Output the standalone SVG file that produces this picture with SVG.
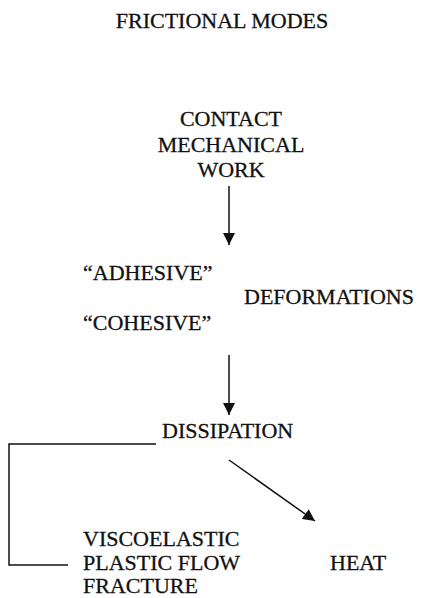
<svg xmlns="http://www.w3.org/2000/svg" width="422" height="598" viewBox="0 0 422 598">
<style>
text{font-family:"Liberation Serif","DejaVu Serif","Times New Roman",serif;font-size:22px;fill:#111;stroke:#111;stroke-width:0.3}
.c{text-anchor:middle}
.ln{stroke:#111;stroke-width:1.5;fill:none}
</style>
<defs>
<marker id="ah" viewBox="0 0 12 12" refX="12" refY="6" markerWidth="12" markerHeight="12" markerUnits="userSpaceOnUse" orient="auto">
<path d="M0,0 L12,6 L0,12 Z" fill="#111"/>
</marker>
</defs>
<rect width="422" height="598" fill="#fff"/>
<g id="title"><text class="c" x="222" y="28">FRICTIONAL MODES</text></g>
<g id="work"><text class="c" x="231" y="126">CONTACT</text><text class="c" x="231" y="152">MECHANICAL</text><text class="c" x="231" y="177">WORK</text></g>
<g id="deformations"><text x="83" y="280">“ADHESIVE”</text><text x="244" y="304">DEFORMATIONS</text><text x="83" y="330">“COHESIVE”</text></g>
<g id="dissipation"><text x="162" y="438">DISSIPATION</text></g>
<g id="modes"><text x="83" y="546">VISCOELASTIC</text><text x="83" y="570">PLASTIC FLOW</text><text x="83" y="593">FRACTURE</text></g>
<g id="heat"><text x="330" y="570">HEAT</text></g>
<g id="connectors">
<line class="ln" x1="229" y1="186" x2="229" y2="245" marker-end="url(#ah)"/>
<line class="ln" x1="229" y1="355" x2="229" y2="415" marker-end="url(#ah)"/>
<line class="ln" x1="229" y1="460" x2="315" y2="521" marker-end="url(#ah)"/>
<polyline class="ln" points="156,444 9,444 9,565 68,565"/>
</g>
</svg>
